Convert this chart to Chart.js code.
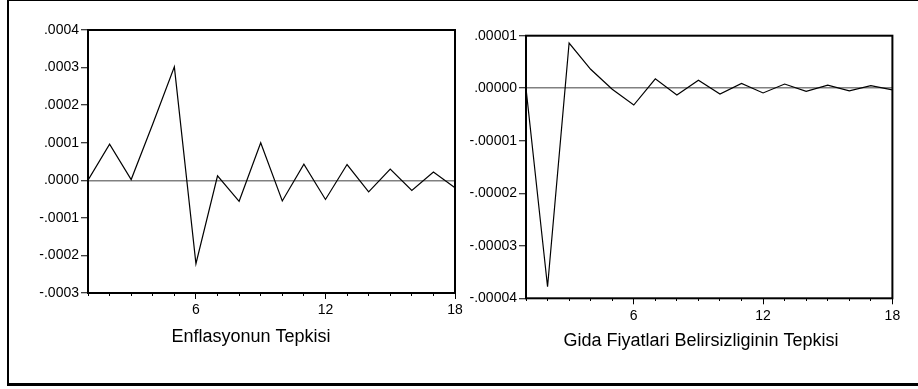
<!DOCTYPE html>
<html>
<head>
<meta charset="utf-8">
<script src="https://cdn.jsdelivr.net/npm/chart.js@4"></script>
<style>
  html, body { margin: 0; padding: 0; background: #fff; width: 918px; height: 389px; overflow: hidden; }
  #frame { position: absolute; left: 7px; top: 0px; width: 930px; height: 382px; border-left: 2px solid #000; border-top: 1px solid #000; border-bottom: 3px solid #000; }
  .wrap { position: absolute; top: 0; height: 389px; }
  #w1 { left: 0; width: 472px; }
  #w2 { left: 459px; width: 481px; }
</style>
</head>
<body>
<div id="frame"></div>
<div class="wrap" id="w1"><canvas id="c1" width="472" height="389"></canvas></div>
<div class="wrap" id="w2"><canvas id="c2" width="481" height="389"></canvas></div>
<script>
// ---- data ----
const periods = [1,2,3,4,5,6,7,8,9,10,11,12,13,14,15,16,17,18];
const xTickLabels = ['6','12','18'];

const enflasyonTepkisi = [0, 0.000096, 0.000002, 0.00015, 0.000302, -0.000222, 0.000012, -0.000056, 0.0001,
  -0.000055, 0.000043, -0.000051, 0.000042, -0.000031, 0.00003, -0.000027, 0.000022, -0.00002];
const gidaTepkisi = [0, -0.0000378, 0.0000086, 0.0000036, -0.0000002, -0.0000032, 0.0000018, -0.0000013, 0.0000015,
  -0.0000011, 0.0000009, -0.0000009, 0.0000008, -0.0000006, 0.0000006, -0.0000005, 0.0000005, -0.0000003];

const yTicksLeft = [-0.0003, -0.0002, -0.0001, 0, 0.0001, 0.0002, 0.0003, 0.0004];
const yLabelsLeft = ['-.0003', '-.0002', '-.0001', '.0000', '.0001', '.0002', '.0003', '.0004'];
const yTicksRight = [-0.00004, -0.00003, -0.00002, -0.00001, 0, 0.00001];
const yLabelsRight = ['-.00004', '-.00003', '-.00002', '-.00001', '.00000', '.00001'];

const titleLeft = 'Enflasyonun Tepkisi';
const titleRight = 'Gida Fiyatlari Belirsizliginin Tepkisi';

Chart.defaults.font.family = '"Liberation Sans", Arial, sans-serif';
Chart.defaults.color = '#000';
Chart.defaults.animation = false;

const frameBox = {
  id: 'frameBox',
  afterDraw(chart) {
    const a = chart.chartArea, ctx = chart.ctx;
    ctx.save();
    ctx.strokeStyle = '#000';
    ctx.lineWidth = 2;
    ctx.strokeRect(a.left, a.top, a.right - a.left, a.bottom - a.top);
    ctx.restore();
  }
};

function makeChart(id, values, yTicks, yLabels, title, cfg) {
  return new Chart(document.getElementById(id), {
    type: 'line',
    data: {
      labels: periods,
      datasets: [{
        data: values.map((v, i) => ({ x: periods[i], y: v })),
        borderColor: '#000',
        borderWidth: 1.2,
        pointRadius: 0,
        tension: 0,
        fill: false
      }]
    },
    options: {
      responsive: false,
      layout: { padding: { left: cfg.padL, right: 0, top: cfg.padT, bottom: 0 } },
      plugins: {
        legend: { display: false },
        tooltip: { enabled: false },
        title: {
          display: true,
          position: 'bottom',
          text: title,
          font: { size: 18, weight: 'normal' },
          color: '#000',
          padding: { top: 0, bottom: cfg.titleBottom }
        }
      },
      scales: {
        x: {
          type: 'linear',
          min: 1, max: 18,
          afterBuildTicks: (s) => { s.ticks = periods.map(v => ({ value: v })); },
          afterFit: (s) => { s.height = cfg.xH; },
          ticks: {
            autoSkip: false, maxRotation: 0, padding: 3,
            font: { size: 14 },
            callback: (v) => (xTickLabels.includes(String(v)) ? String(v) : '')
          },
          grid: {
            drawOnChartArea: false, drawTicks: true, tickLength: 6,
            color: 'rgba(0,0,0,0)', tickColor: '#000', tickWidth: 1,
            tickBorderDash: (ctx) => (ctx.tick && xTickLabels.includes(String(ctx.tick.value)) ? [] : [3, 20])
          },
          border: { display: false }
        },
        y: {
          min: yTicks[0], max: yTicks[yTicks.length - 1],
          afterBuildTicks: (s) => { s.ticks = yTicks.map(v => ({ value: v })); },
          afterFit: (s) => { s.width = cfg.yW; },
          ticks: {
            padding: 2, font: { size: 14 },
            callback: (v, i) => yLabels[i]
          },
          grid: {
            drawOnChartArea: true, drawTicks: true, tickLength: 7,
            color: (ctx) => (ctx.tick && Math.abs(ctx.tick.value) < 1e-12 ? '#808080' : 'rgba(0,0,0,0)'),
            lineWidth: 1.5,
            tickColor: '#000', tickWidth: 1
          },
          border: { display: false }
        },
        yR: {
          position: 'right',
          display: true,
          afterFit: (s) => { s.width = cfg.rW; },
          ticks: { display: false },
          grid: { display: false, drawTicks: false },
          border: { display: false }
        }
      }
    },
    plugins: [frameBox]
  });
}

makeChart('c1', enflasyonTepkisi, yTicksLeft, yLabelsLeft, titleLeft,
  { padL: 30, padT: 30, yW: 58, rW: 17, xH: 33.7, titleBottom: 40.7 });
makeChart('c2', gidaTepkisi, yTicksRight, yLabelsRight, titleRight,
  { padL: 3, padT: 35.7, yW: 64, rW: 47.6, xH: 31.9, titleBottom: 37.2 });
</script>
</body>
</html>
